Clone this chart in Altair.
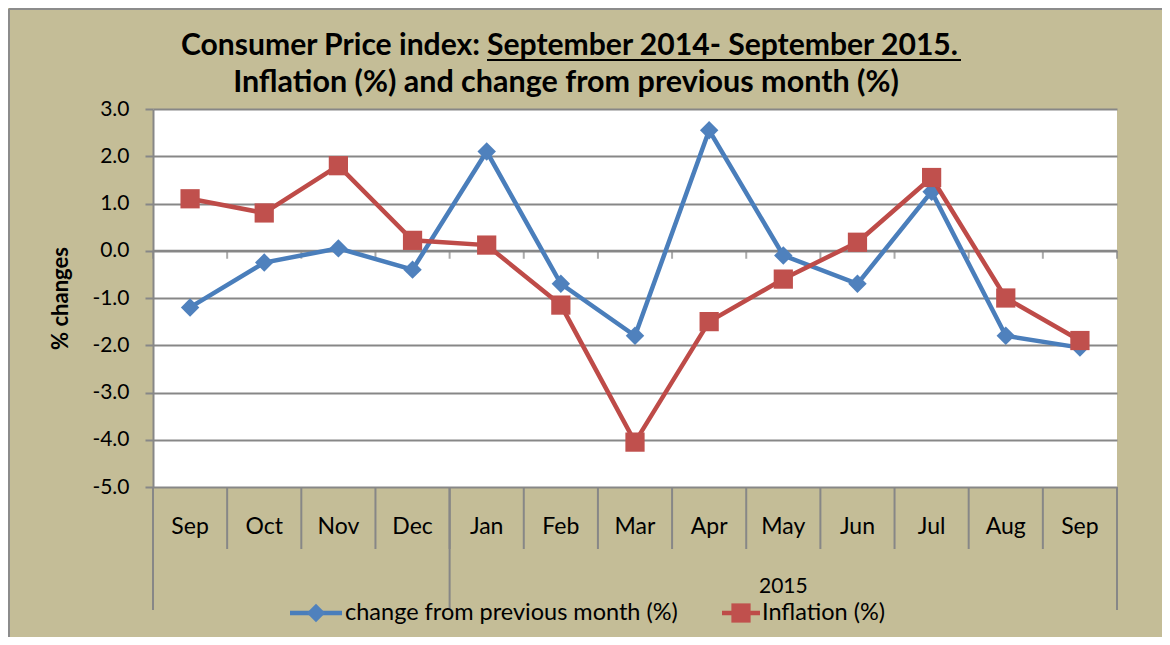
import altair as alt
import pandas as pd

# ---- data ----
months = ["Sep", "Oct", "Nov", "Dec", "Jan", "Feb", "Mar", "Apr", "May", "Jun", "Jul", "Aug", "Sep"]
change = [-1.2, -0.25, 0.05, -0.4, 2.1, -0.7, -1.8, 2.55, -0.1, -0.7, 1.25, -1.8, -2.05]
inflation = [1.1, 0.8, 1.8, 0.22, 0.12, -1.15, -4.05, -1.5, -0.6, 0.18, 1.55, -1.0, -1.9]
y_ticks = [3.0, 2.0, 1.0, 0.0, -1.0, -2.0, -3.0, -4.0, -5.0]
group_label = "2015"
series_names = ["change from previous month (%)", "Inflation (%)"]
title_a = "Consumer Price index:"
title_b = "September 2014- September 2015."
title_2 = "Inflation (%) and change from previous month (%)"
y_title = "% changes"

FONT = "Lato"
BG = "#C4BD97"
GRID = "#878787"
BLUE = "#4A7EBB"
RED = "#BE4B48"
W, H = 964, 378
TFS1 = 30.1  # title line 1
TFS2 = 30.5  # title line 2
MFS = 23     # month labels
LFS = 23.5   # legend

n = len(months)
ymin, ymax = min(y_ticks), max(y_ticks)
df = pd.DataFrame({"idx": list(range(n)), "month": months,
                   "change": change, "inflation": inflation})
bounds = pd.DataFrame({"b": [i - 0.5 for i in range(n + 1)],
                       "long": [i == 0 or i == n or months[i] == "Jan" for i in range(n + 1)]})
bounds["zero"] = 0.0
bounds["bottom"] = ymin
grp_start = months.index("Jan")
grp_center = (grp_start - 0.5 + n - 0.5) / 2

xs = alt.Scale(domain=[-0.5, n - 0.5], nice=False, zero=False)
ys = alt.Scale(domain=[ymin, ymax], nice=False, zero=False)
X = alt.X("idx:Q", scale=xs, axis=None)

yaxis = alt.Axis(values=y_ticks,
                 labelExpr="replace(format(datum.value, '.1f'), '\u2212', '-')",
                 grid=True, gridColor=GRID, gridWidth=2,
                 domainColor=GRID, domainWidth=2,
                 tickColor=GRID, tickWidth=2, tickSize=8,
                 labelFont=FONT, labelFontSize=21, labelColor="black", labelPadding=16,
                 title=y_title, titleFont=FONT, titleFontSize=22, titleFontWeight="bold",
                 titleColor="black", titleAngle=270, titleX=-93, titleY=H / 2,
                 titleAlign="center", titleBaseline="middle")

# zero line carrying the y axis
zero = alt.Chart(bounds).mark_rule(color=GRID, strokeWidth=2).encode(
    y=alt.Y("zero:Q", scale=ys, axis=yaxis),
    x=alt.value(0), x2=alt.value(W)
).transform_filter("datum.b < 0")

# small ticks hanging from the zero line
zticks = alt.Chart(bounds).mark_tick(color=GRID, thickness=2, size=8, orient="vertical",
                                     yOffset=4).encode(
    x=alt.X("b:Q", scale=xs, axis=None),
    y=alt.Y("zero:Q", scale=ys)
)

# category separators below the plot
sep_short = alt.Chart(bounds).mark_rule(color=GRID, strokeWidth=2).encode(
    x=alt.X("b:Q", scale=xs, axis=None),
    y=alt.Y("bottom:Q", scale=ys), y2=alt.value(440)
)
sep_long = alt.Chart(bounds).mark_rule(color=GRID, strokeWidth=2).encode(
    x=alt.X("b:Q", scale=xs, axis=None),
    y=alt.Y("bottom:Q", scale=ys), y2=alt.value(501)
).transform_filter("datum.long")

month_txt = alt.Chart(df).mark_text(font=FONT, fontSize=MFS, color="black",
                                    baseline="middle", align="center").encode(
    x=X, y=alt.value(418), text="month:N")

one = df[df.idx == 0].copy()
one["gc"] = grp_center
one["glabel"] = group_label

grp_txt = alt.Chart(one).mark_text(font=FONT, fontSize=21, color="black",
                                   baseline="middle", align="center").encode(
    x=alt.X("gc:Q", scale=xs, axis=None), y=alt.value(478), text="glabel:N")

blue_line = alt.Chart(df).mark_line(color=BLUE, strokeWidth=4.5).encode(
    x=X, y=alt.Y("change:Q", scale=ys))
blue_pts = alt.Chart(df).mark_point(shape="diamond", filled=True, color="#4F81BD",
                                    size=340, opacity=1).encode(
    x=X, y=alt.Y("change:Q", scale=ys))
red_line = alt.Chart(df).mark_line(color=RED, strokeWidth=4.5).encode(
    x=X, y=alt.Y("inflation:Q", scale=ys))
red_pts = alt.Chart(df).mark_point(shape="square", filled=True, color="#C0504D",
                                   size=370, opacity=1).encode(
    x=X, y=alt.Y("inflation:Q", scale=ys))

# legend
leg_y = 504
lg = []
lg.append(alt.Chart(one).mark_rule(color=BLUE, strokeWidth=4.5).encode(
    x=alt.value(137), x2=alt.value(189), y=alt.value(leg_y)))
lg.append(alt.Chart(one).mark_point(shape="diamond", filled=True, color="#4F81BD",
                                    size=340, opacity=1).encode(
    x=alt.value(163), y=alt.value(leg_y)))
lg.append(alt.Chart(one).mark_text(font=FONT, fontSize=LFS, color="black", align="left",
                                   baseline="middle").encode(
    x=alt.value(192), y=alt.value(leg_y), text=alt.value(series_names[0])))
lg.append(alt.Chart(one).mark_rule(color=RED, strokeWidth=4.5).encode(
    x=alt.value(569), x2=alt.value(607), y=alt.value(leg_y)))
lg.append(alt.Chart(one).mark_point(shape="square", filled=True, color="#C0504D",
                                    size=370, opacity=1).encode(
    x=alt.value(588), y=alt.value(leg_y)))
lg.append(alt.Chart(one).mark_text(font=FONT, fontSize=LFS, color="black", align="left",
                                   baseline="middle").encode(
    x=alt.value(609), y=alt.value(leg_y), text=alt.value(series_names[1])))

# title
tt = []
tt.append(alt.Chart(one).mark_text(font=FONT, fontSize=TFS1, fontWeight="bold", color="black",
                                   align="right", baseline="alphabetic").encode(
    x=alt.value(327), y=alt.value(-54), text=alt.value(title_a)))
tt.append(alt.Chart(one).mark_text(font=FONT, fontSize=TFS1, fontWeight="bold", color="black",
                                   align="left", baseline="alphabetic").encode(
    x=alt.value(334), y=alt.value(-54), text=alt.value(title_b)))
tt.append(alt.Chart(one).mark_rule(color="black", strokeWidth=2).encode(
    x=alt.value(334), x2=alt.value(808), y=alt.value(-49)))
tt.append(alt.Chart(one).mark_text(font=FONT, fontSize=TFS2, fontWeight="bold", color="black",
                                   align="center", baseline="alphabetic").encode(
    x=alt.value(413), y=alt.value(-17), text=alt.value(title_2)))

# outer chart border (left and top)
border = [
    alt.Chart(one).mark_rule(color="#8C8C8C", strokeWidth=2).encode(
        x=alt.value(-144), y=alt.value(-100), y2=alt.value(H + 150)),
    alt.Chart(one).mark_rule(color="#8C8C8C", strokeWidth=2).encode(
        x=alt.value(-144), x2=alt.value(W + 45), y=alt.value(-100)),
]

chart = alt.layer(
    zero, zticks, sep_short, sep_long, month_txt, grp_txt,
    blue_line, blue_pts, red_line, red_pts, *lg, *tt, *border
).properties(
    width=W, height=H,
    autosize=alt.AutoSizeParams(type="none"),
    padding={"left": 145, "top": 101, "right": 45, "bottom": 150},
    background=BG,
).configure_view(fill="white", stroke=None)

chart.save("out.html", embed_options={"renderer": "svg", "actions": False})
